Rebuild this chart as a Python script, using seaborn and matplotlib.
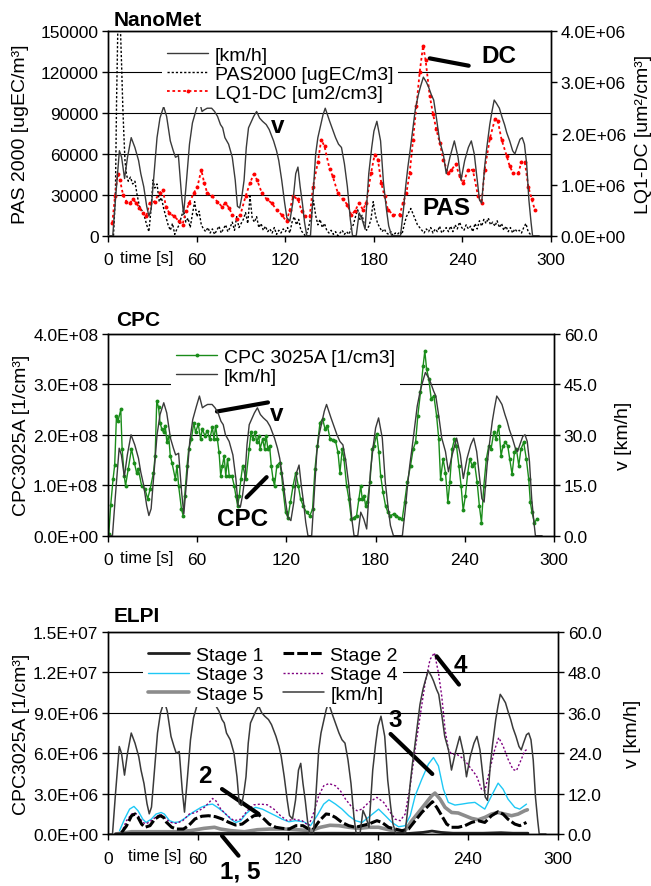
import numpy as np
import matplotlib
matplotlib.use("Agg")
import matplotlib.pyplot as plt
from matplotlib.ticker import FuncFormatter
import seaborn as sns

# ---------------- data ----------------
# vehicle speed [km/h], shared by all three panels
t_v = [0, 3, 5, 7.5, 9, 11, 13, 15.5, 18, 20.5, 22, 24, 26, 27.5, 29, 31.5, 33, 35, 37.5, 39.5,
       42, 44, 45.5, 47.5, 49.5, 51, 53, 55, 57, 59.5, 61.5, 63.5, 65, 67, 70, 72, 74, 76, 77.5, 79,
       81.5, 84, 86, 87.5, 89, 90.5, 92, 93.5, 95, 97, 98.5, 100.5, 102.5, 104.5, 107, 109, 112, 114,
       115.5, 117.5, 119.5, 121, 123, 125, 127, 128.5, 130, 131.5, 133, 134.5, 137, 139, 140.5, 142,
       144, 145.5, 147, 148.5, 150, 152, 154, 156, 158, 160, 162, 164, 165.5, 168, 170, 172, 174,
       176.5, 178.5, 180, 182, 184.5, 186.5, 188.5, 190, 192, 198, 200, 201.5, 203, 204.5, 206.5,
       208, 210, 211.5, 213.5, 215.5, 217, 219, 220.5, 222.5, 224.5, 227, 229, 231.5, 234.5, 237,
       239, 241.5, 244, 246, 248, 250, 251.5, 253, 255, 256.5, 258.5, 260, 261.5, 263, 265, 267,
       268.5, 270, 272, 274, 275.5, 277, 279, 280.5, 282, 283.5, 285, 286.5, 287.5, 292]
v_kmh = [0, 0, 12, 26, 24, 17.5, 24, 30, 27, 23, 19, 15, 9, 6, 8, 22, 30, 36, 39.5, 36.5,
         29, 26, 24, 24.5, 13, 6.5, 17, 28, 34.5, 38.5, 41.5, 38, 38.5, 39, 39, 38, 36.5, 34, 33, 30,
         28, 24, 17, 9, 8.5, 12, 17, 27, 33, 35, 36.5, 38, 36, 35, 34, 32.5, 29, 26,
         23, 17, 10, 5.5, 4.5, 10, 19, 21, 15, 10, 4, 0, 0, 14, 25, 30,
         34, 37, 39, 37, 35, 32.5, 30, 28, 27, 22, 15, 5, 0, 0, 7, 5, 2,
         19, 27, 32, 35, 29, 16, 8, 3, 0, 0, 8, 15, 21, 26, 33,
         38.5, 43, 45.5, 48.5, 47, 45.5, 43, 41.5, 35.5, 29, 25, 19, 24, 29, 24,
         17, 23, 27, 29, 25, 17, 11, 10, 21, 27, 34, 38, 41.5, 40.5, 39, 36,
         34, 31.5, 29, 26, 25, 27, 29.5, 30, 28, 22, 11, 4, 0, 0]

# NanoMet: PAS2000 [ugEC/m3]
pas_t = [3.5, 4.8, 5.6, 6.4, 7.2, 8.2, 9.0, 9.8, 10.5, 11.3, 12.3, 13.5, 15, 16.5, 18, 19.5, 21, 23,
         24.5, 26, 27.5, 29, 30.3, 31.5, 33, 34.5, 36, 37.5, 39, 40.5, 42, 43.5, 45, 46.5, 48, 49.5,
         51, 52.5, 54, 55.5, 57, 58.5, 60, 61.5, 63, 64.5, 66, 67.5, 69, 70.5, 72, 73.5, 75, 76.5, 78,
         79.5, 81, 82.5, 84, 85.5, 87, 88.5, 90, 91.5, 93, 94.5, 96, 97.5, 99, 100.5, 102, 103.5, 105,
         106.5, 108, 109.5, 111, 112.5, 114, 115.5, 117, 118.5, 120, 121.5, 123, 124.5, 126, 127.5,
         129, 130.5, 132, 133.5, 135, 136.5, 138, 139, 140.5, 142, 143.5, 145, 146.5, 148, 149.5,
         151, 152.5, 154, 155.5, 157, 158.5, 160, 161.5, 163, 164.5, 166, 167.5, 169, 170.5, 172,
         173.5, 175, 176.5, 178, 179.5, 181, 182.5, 184, 185.5, 187, 188.5, 190, 191.5, 193, 194.5,
         196, 197.5, 199, 200.5, 202, 203.5, 205, 206.5, 208, 209.5, 211, 212.5, 214, 215.5, 217,
         218.5, 220, 221.5, 223, 224.5, 226, 227.5, 229, 230.5, 232, 233.5, 235, 236.5, 238, 239.5,
         241, 242.5, 244, 245.5, 247, 248.5, 250, 251.5, 253, 254.5, 256, 257.5, 259, 260.5, 262,
         263.5, 265, 266.5, 268, 269.5, 271, 272.5, 274, 275.5, 277, 278.5, 280, 281.5, 283, 284.5,
         286, 287.5]
pas = [0, 30000, 100000, 150000, 158000, 152000, 125000, 95000, 75000, 55000, 45000, 40000, 43000,
       38000, 40000, 30000, 22000, 18000, 14000, 8000, 3000, 20000, 41000, 35000, 38000, 25000,
       28000, 20000, 14000, 8000, 4000, 9000, 1000, 5000, 8000, 14000, 19000, 10000, 13000, 6000,
       16000, 25000, 14000, 18000, 8000, 5000, 3000, 6000, 2000, 5000, 1000, 4000, 7000, 2000, 5000,
       8000, 3000, 6000, 10000, 4000, 14000, 6000, 9000, 12000, 17000, 9000, 29000, 13000, 10000,
       14000, 6000, 9000, 4000, 7000, 3000, 5000, 2000, 6000, 1000, 4000, 2000, 5000, 3000, 6000,
       2000, 10000, 14000, 8000, 12000, 4000, 2000, 0, 3000, 10000, 18000, 26000, 15000, 8000,
       12000, 6000, 9000, 4000, 2000, 4000, 1000, 3000, 0, 2000, 4000, 1000, 3000, 1000, 5000,
       8000, 14000, 19000, 12000, 15000, 8000, 4000, 7000, 12000, 25000, 15000, 9000, 6000, 3000,
       5000, 2000, 1000, 3000, 0, 2000, 1000, 3000, 1000, 8000, 14000, 17000, 20000, 16000, 12000,
       8000, 6000, 4000, 2000, 5000, 3000, 6000, 2000, 5000, 3000, 7000, 2000, 4000, 6000, 3000,
       7000, 3000, 8000, 5000, 10000, 6000, 4000, 8000, 5000, 7000, 3000, 9000, 5000, 11000, 7000,
       12000, 9000, 13000, 8000, 10000, 7000, 11000, 6000, 9000, 4000, 7000, 3000, 6000, 2000,
       5000, 3000, 4000, 2000, 6000, 9000, 3000, 1000, 0]

# NanoMet: LQ1-DC [um2/cm3], in units of 1E+06
dc_t = [2.7, 4.5, 6.3, 7.8, 10, 12.3, 14.5, 16.8, 19, 21, 23.5, 25.7, 28, 31.3, 34.7, 37, 39, 41.4,
        44.7, 48, 50.3, 52.6, 54.8, 58, 60.4, 63, 65, 67, 70.5, 73.8, 77, 79.4, 81.7, 84, 87, 89.5,
        93, 96, 98.4, 100.7, 104, 107.4, 110.7, 114, 117.4, 120.8, 123, 125.3, 128.6, 131, 133,
        136.5, 138.7, 142, 144.3, 146.5, 150, 152, 155.5, 159, 162, 164.6, 167, 170, 172.5, 174.8,
        178, 180.5, 182.7, 185, 187.2, 189.5, 193, 197.4, 199.7, 202, 204.2, 206.5, 208.8, 211,
        213.3, 215, 217.8, 220, 222.3, 224.6, 227, 230.3, 232.5, 235.5, 238, 240.5, 243.8, 247,
        250.6, 253, 255, 258.6, 262, 264, 266.5, 270, 272, 274.4, 277.8, 280, 282.3, 284.6, 287, 289]
dc_1e6 = [0.25, 0.77, 1.20, 1.10, 0.80, 0.67, 0.64, 0.71, 0.64, 0.55, 0.44, 0.38, 0.64, 0.67, 0.84,
          0.90, 0.57, 0.44, 0.38, 0.28, 0.22, 0.48, 0.64, 0.84, 0.96, 1.29, 1.03, 0.84, 0.77, 0.67,
          0.57, 0.64, 0.55, 0.41, 0.32, 0.41, 0.77, 1.03, 1.20, 1.10, 0.84, 0.71, 0.64, 0.51, 0.41,
          0.28, 0.51, 0.77, 0.71, 0.48, 0.38, 0.38, 0.96, 1.44, 1.88, 1.75, 1.30, 1.17, 0.84, 0.71,
          0.61, 0.41, 0.48, 0.64, 0.51, 0.64, 1.22, 1.59, 1.49, 1.03, 0.77, 0.51, 0.41, 0.41, 0.64,
          0.84, 1.22, 1.88, 2.54, 3.20, 3.72, 3.44, 2.74, 2.39, 2.08, 1.82, 1.49, 1.22, 1.29, 1.40,
          1.17, 1.03, 1.29, 1.29, 0.77, 0.64, 1.29, 1.91, 2.28, 2.24, 1.88, 1.56, 1.36, 1.22, 1.22,
          1.45, 1.44, 0.96, 0.71, 0.51]

# CPC 3025A [1/cm3], in units of 1E+08
cpc_t = [0.5, 1.8, 3.4, 4.5, 5.7, 6.8, 8.6, 9.5, 10.9, 11.8, 13.6, 15.8, 17.7, 19.2, 20.4, 22.6, 24.9,
         26.7, 28.3, 30.6, 31.7, 32.8, 34, 35, 36.2, 37.4, 38.5, 39.6, 40.8, 41.9, 43, 45.3, 46.4,
         47.5, 49.4, 50.5, 51.6, 53.2, 54.3, 56.1, 57.7, 58.9, 60.7, 62.3, 63.4, 65.2, 66.8, 68.4,
         70.2, 71.3, 72.4, 73.6, 74.7, 75.8, 77, 78.1, 79.2, 80.4, 81.5, 83.3, 84.9, 86, 87.2, 88.3,
         89.4, 90.6, 92.8, 95, 96.2, 97.4, 99, 100, 101.4, 102.3, 104, 105.3, 106.4, 107.5, 108.7,
         109.8, 111, 112, 113.6, 115.5, 116.6, 117.7, 119.5, 121, 122.7, 124.5, 126.3, 128, 129.5,
         131.3, 133.6, 135.8, 137.6, 139.2, 140.8, 142.6, 144.4, 146, 147.6, 149.4, 151.6, 153,
         154.7, 156, 157.6, 158.7, 160.5, 162, 163.7, 165.4, 167.2, 168.8, 170, 171, 172.2, 173.3,
         174.4, 176.2, 177.8, 178.9, 180.7, 182.2, 183.4, 185, 186.7, 188.3, 190, 192.3, 194,
         195.7, 197.9, 199.5, 201.3, 203.5, 205.3, 206.9, 208.4, 210.2, 212, 213.1, 214.3, 215.8,
         217.4, 219.2, 221, 222.5, 223.7, 225.4, 227, 228.6, 229.9, 231.5, 233, 234.4, 236, 237.5,
         238.9, 240.4, 242, 243.4, 244.9, 246.5, 248.3, 249.8, 251.2, 252.8, 254.5, 256.1, 257.7,
         259.5, 261, 262.8, 264.4, 265.7, 267.3, 268.9, 270.2, 271.8, 273.4, 274.7, 276.3, 277.8,
         279.6, 281.4, 283, 284.1, 285.2, 286.8, 288.6]
cpc_1e8 = [0.03, 0.6, 1.12, 1.4, 2.38, 2.28, 2.5, 1.72, 1.19, 0.99, 1.32, 1.72, 1.45, 1.25, 1.32, 0.99,
           0.92, 0.73, 0.92, 1.25, 1.58, 2.67, 2.54, 2.24, 2.11, 2.05, 2.18, 1.85, 1.98, 1.58, 1.45,
           1.12, 1.39, 0.99, 0.53, 0.4, 0.79, 1.39, 1.72, 1.91, 2.24, 2.05, 2.21, 1.91, 2.11, 1.98,
           2.08, 1.91, 2.15, 1.91, 2.18, 1.91, 1.65, 1.19, 1.39, 1.58, 1.19, 1.52, 1.19, 1.19, 0.99,
           0.79, 0.59, 0.79, 1.12, 1.39, 1.12, 1.72, 2.05, 1.91, 2.05, 1.85, 1.98, 1.72, 1.91, 1.72,
           1.98, 1.72, 1.78, 1.39, 1.12, 0.99, 1.39, 1.45, 1.25, 0.92, 0.46, 0.36, 0.66, 0.99, 1.25,
           0.99, 0.73, 0.59, 0.46, 0.4, 0.53, 1.32, 1.78, 2.24, 2.31, 2.11, 2.18, 1.91, 1.9, 1.88,
           1.65, 1.25, 1.72, 1.52, 0.99, 0.73, 0.33, 0.36, 0.4, 0.73, 0.99, 0.73, 0.79, 0.59, 0.66,
           1.06, 1.72, 1.78, 2.01, 1.65, 1.19, 0.86, 0.59, 0.46, 0.4, 0.43, 0.4, 0.36, 0.33, 0.66,
           1.06, 1.39, 1.72, 1.85, 2.38, 2.84, 3.37, 3.66, 3.3, 3.1, 2.71, 2.77, 2.38, 1.91, 1.12,
           1.52, 1.25, 0.66, 1.06, 1.72, 1.91, 1.78, 1.39, 0.99, 0.5, 0.79, 1.25, 1.52, 1.39, 1.45,
           1.06, 0.59, 0.26, 0.99, 1.52, 1.78, 1.72, 2.05, 1.91, 2.18, 1.58, 1.78, 1.85, 1.78, 1.52,
           1.22, 1.65, 1.72, 1.39, 1.72, 1.85, 1.52, 1.12, 0.66, 0.46, 0.26, 0.33]

# ELPI stages [1/cm3], in units of 1E+06
s1_t = [5, 15, 30, 60, 90, 120, 150, 180, 200, 210, 216, 222, 230, 250, 262, 270, 280]
s1 = [0, 0.05, 0.05, 0.06, 0.05, 0.05, 0.06, 0.05, 0.04, 0.12, 0.22, 0.12, 0.06, 0.06, 0.10, 0.06, 0.06]

s2_t = [9, 12.3, 15.7, 18, 20, 22.4, 24.6, 28, 31.3, 34.7, 37, 39, 42.5, 45.9, 50.3, 53.7, 58, 62.6,
        67, 71.6, 76, 80.5, 85, 89.5, 94, 97.3, 100.7, 104, 107.4, 111.9, 116.3, 120.8, 125.3, 130,
        133, 136.5, 141, 145.4, 148, 151.7, 156, 160.5, 165, 169.4, 173.8, 179.3, 182.7, 187, 191.5,
        196, 200.4, 204.8, 209.2, 213.6, 216.3, 219.2, 222.5, 225.8, 229, 233.5, 238, 242.4, 246.8,
        251.2, 255.7, 260, 263.4, 266.7, 271.2, 274.5, 279]
s2 = [0.1, 0.6, 1.36, 1.49, 1.24, 0.74, 0.5, 0.62, 1.12, 1.36, 1.24, 0.87, 0.5, 0.37, 0.37, 0.62, 1.12,
      1.32, 1.36, 1.29, 1.12, 0.87, 0.67, 0.74, 1.12, 1.36, 1.41, 1.12, 0.74, 0.5, 0.42, 0.37, 0.62,
      0.62, 0.42, 0.3, 0.99, 1.49, 1.45, 1.23, 0.86, 0.62, 0.5, 0.62, 0.74, 0.99, 0.86, 0.5, 0.37,
      0.25, 0.37, 0.99, 1.6, 2.1, 2.4, 1.98, 1.36, 0.74, 0.5, 0.5, 0.62, 0.86, 0.99, 0.86, 1.36,
      1.65, 1.48, 1.1, 0.74, 0.62, 0.86]

s3_t = [7.7, 11, 14.4, 17.3, 20, 23.2, 25.4, 28.8, 32, 35.4, 37.6, 41, 44.2, 47.5, 52, 56.4, 62, 66.4,
        69.7, 73, 77.4, 81.9, 85.2, 88.5, 91.8, 95, 98.5, 102.9, 107.3, 111.7, 116.2, 120.6, 125,
        130.5, 135, 139.4, 143.8, 147.3, 151.7, 156, 160.5, 165, 169.4, 175, 180.4, 184.9, 189.3,
        193.7, 198.1, 201.5, 204.8, 209.2, 213.6, 217, 220.3, 223.6, 226.9, 231.3, 235.8, 240.2,
        244.6, 247.9, 251.2, 255.7, 260.1, 263.4, 266.7, 271.2, 274.5, 279]
s3 = [0.25, 1.1, 1.85, 2.05, 1.73, 1.1, 0.86, 1.1, 1.48, 1.6, 1.48, 0.99, 0.86, 0.9, 1.23, 1.6, 1.98,
      2.17, 2.22, 1.98, 1.6, 1.1, 0.86, 0.99, 1.48, 1.8, 1.98, 1.85, 1.6, 1.36, 1.1, 0.91, 0.99,
      0.91, 0.62, 1.36, 2.22, 2.54, 2.22, 1.85, 1.36, 0.99, 0.86, 1.36, 1.85, 1.36, 0.86, 0.54,
      0.62, 1.36, 2.84, 4.07, 5.19, 5.68, 5.06, 3.33, 2.35, 2.15, 2.22, 2.3, 2.35, 2.1, 1.85, 2.84,
      3.78, 3.33, 2.59, 1.98, 1.85, 2.22]

s4_t = [9, 12.3, 15.7, 18, 20, 23.2, 25.4, 28.8, 33.2, 35.4, 38.7, 42, 45.4, 49.8, 54.2, 58.6, 64.2,
        67.5, 69.7, 71.9, 75.2, 79.6, 84, 88.5, 92.9, 97.3, 101.8, 106.2, 110.6, 115, 119.5, 124,
        129.4, 133.8, 137.2, 140.5, 143.8, 147.3, 151.7, 155, 158.3, 162.7, 166, 169.4, 173.8,
        179.3, 183.8, 188.2, 191.5, 194.8, 198.1, 201.5, 204.8, 208.1, 211.4, 214.7, 217.6, 220.3,
        222.5, 224.7, 226.9, 229.1, 232.4, 235.8, 239, 242.4, 245.7, 249, 251.2, 254.6, 257.9,
        260.5, 263.4, 266.7, 270, 272.3, 275.6, 277.8, 279.6]
s4 = [0.1, 0.99, 1.48, 1.56, 1.36, 0.86, 0.75, 0.99, 1.36, 1.44, 1.1, 0.86, 0.79, 0.99, 1.48, 1.6,
      1.98, 2.35, 2.64, 2.47, 1.85, 1.36, 0.99, 1.1, 1.73, 2.17, 2.22, 2.17, 1.85, 1.36, 0.99, 1.1,
      0.99, 0.62, 1.6, 2.84, 3.58, 3.75, 3.58, 3.2, 2.6, 1.98, 1.73, 1.85, 2.35, 2.72, 2.35, 1.6,
      1.1, 0.99, 1.48, 3.58, 6.3, 8.77, 11.2, 12.96, 13.46, 11.98, 10.25, 7.78, 6.3, 5.93, 5.93,
      5.68, 5.3, 4.8, 4.32, 3.33, 3.2, 4.8, 6.3, 7.16, 6.54, 5.56, 4.8, 4.7, 5.56, 6.17, 6.3]

s5_t = [5, 15.7, 30, 45, 55, 64, 71, 75, 82, 91, 99.6, 108, 117, 126, 135, 141.6, 148, 154, 160.5,
        167, 173.8, 180.4, 187, 193.7, 198.1, 202.6, 207, 211.4, 215.8, 218, 221.4, 224.7, 229.1,
        233.5, 238, 242.4, 246.8, 251.2, 255.7, 260, 264.5, 269, 273.4, 277.8, 279.6]
s5 = [0, 0.17, 0.17, 0.17, 0.25, 0.42, 0.5, 0.37, 0.25, 0.17, 0.32, 0.37, 0.37, 0.32, 0.25, 0.5, 0.65,
      0.62, 0.5, 0.42, 0.5, 0.5, 0.32, 0.17, 0.25, 0.99, 1.6, 2.22, 2.84, 3.04, 2.59, 1.98, 1.6,
      1.56, 1.36, 1.16, 1.06, 1.23, 1.48, 1.6, 1.48, 1.36, 1.48, 1.73, 1.8]

x_ticks = [0, 60, 120, 180, 240, 300]

# ---------------- styling ----------------
sns.set_style("white")
plt.rcParams["font.family"] = ["Liberation Sans", "DejaVu Sans"]
for key in ["text.color", "axes.labelcolor", "xtick.color", "ytick.color", "axes.edgecolor"]:
    plt.rcParams[key] = "black"

TICK = 12.5
LEG = 14
LAB = 14
NOTE = 17.5
V_COL = "#3a3a3a"
LEG_KW = dict(fontsize=LEG, frameon=True, facecolor="white", edgecolor="none", framealpha=1,
              fancybox=False, handlelength=2.1, handletextpad=0.35, labelspacing=0.08,
              borderpad=0.25, loc="upper left")

fig = plt.figure(figsize=(6.51, 8.87), dpi=100)


def line(ax, x, y, **kw):
    sns.lineplot(x=x, y=y, ax=ax, estimator=None, sort=False, legend=False, **kw)
    return ax.get_lines()[-1]


def frame(ax, ymax, ystep, fmt, side="left"):
    ax.set_xlim(0, 300)
    ax.set_ylim(0, ymax)
    ax.set_yticks(np.arange(0, ymax + ystep / 2, ystep))
    ax.yaxis.set_major_formatter(FuncFormatter(fmt))
    ax.tick_params(axis="y", which="both", direction="out", length=4, width=1, color="black",
                   labelsize=TICK, pad=3, left=(side == "left"), right=(side == "right"))
    for s in ax.spines.values():
        s.set_color("black")
        s.set_linewidth(1)


def xaxis(ax, time_x):
    ax.set_xticks(x_ticks)
    ax.set_xticklabels([str(v) for v in x_ticks])
    ax.tick_params(axis="x", direction="out", length=4, width=1, color="black",
                   labelsize=TICK, pad=8, bottom=True)
    ax.text(time_x, -0.108, "time [s]", transform=ax.get_xaxis_transform(),
            ha="center", va="center", fontsize=12)
    ax.set_xlabel("")


def grid(ax):
    ax.yaxis.grid(True, color="black", lw=0.8)
    ax.xaxis.grid(False)
    ax.set_axisbelow(True)


def callout(ax, text, txy, a, b):
    ax.text(txy[0], txy[1], text, fontsize=NOTE, fontweight="bold", ha="center", va="center",
            clip_on=False, zorder=10)
    ax.annotate("", xy=b, xytext=a, annotation_clip=False,
                arrowprops=dict(arrowstyle="-", lw=3, color="black", shrinkA=0, shrinkB=0))


sci = lambda v, p: f"{v:.1E}"
one = lambda v, p: f"{v:.1f}"

# ---------------- panel 1: NanoMet ----------------
ax1 = fig.add_axes([0.1664, 0.7331, 0.680, 0.2304])
ax1r = ax1.twinx()
ax1v = ax1.twinx()
frame(ax1, 150000, 30000, lambda v, p: f"{int(v)}")
frame(ax1r, 4e6, 1e6, sci, side="right")
grid(ax1)
xaxis(ax1, 26)
ax1v.set_ylim(0, 62.5)
ax1v.axis("off")

h_pas = line(ax1, pas_t, pas, color="black", lw=1.0, linestyle=(0, (1.6, 1.4)),
             label="PAS2000 [ugEC/m3]")
h_dc = line(ax1r, dc_t, np.array(dc_1e6) * 1e6, color="#ff0000", lw=1.3, linestyle=(0, (1.5, 1.5)),
            marker="o", markersize=2.8, markeredgewidth=0, label="LQ1-DC [um2/cm3]")
h_v1 = line(ax1v, t_v, v_kmh, color=V_COL, lw=1.0, label="[km/h]")

ax1.set_ylabel("PAS 2000 [ugEC/m³]", fontsize=LAB)
ax1.yaxis.set_label_coords(-0.18, 0.5)
ax1r.set_ylabel("LQ1-DC [um²/cm³]", fontsize=LAB)
ax1r.yaxis.set_label_coords(1.19, 0.5)

ax1v.legend([h_v1, h_pas, h_dc], ["[km/h]", "PAS2000 [ugEC/m3]", "LQ1-DC [um2/cm3]"],
            bbox_to_anchor=(0.10, 1.0), **LEG_KW)

callout(ax1, "DC", (265, 132100), (217.8, 130200), (244.2, 124800))
ax1.text(115, 80700, "v", fontsize=NOTE, fontweight="bold", ha="center", va="center")
ax1.text(229, 20800, "PAS", fontsize=NOTE, fontweight="bold", ha="center", va="center")
fig.text(114 / 651, 1 - 20 / 887, "NanoMet", fontsize=15, fontweight="bold", va="center")

# ---------------- panel 2: CPC ----------------
ax2 = fig.add_axes([0.1659, 0.3949, 0.6851, 0.2277])
ax2r = ax2.twinx()
frame(ax2, 4e8, 1e8, sci)
frame(ax2r, 60, 15, one, side="right")
grid(ax2)
xaxis(ax2, 26)

h_cpc = line(ax2, cpc_t, np.array(cpc_1e8) * 1e8, color="#1a8c1a", lw=1.0, marker="o",
             markersize=2.8, markeredgewidth=0, label="CPC 3025A [1/cm3]")
h_v2 = line(ax2r, t_v, v_kmh, color=V_COL, lw=1.0, label="[km/h]")

ax2.set_ylabel("CPC3025A [1/cm³]", fontsize=LAB)
ax2.yaxis.set_label_coords(-0.175, 0.5)
ax2r.set_ylabel("v [km/h]", fontsize=LAB)
ax2r.yaxis.set_label_coords(1.136, 0.5)

ax2r.legend([h_cpc, h_v2], ["CPC 3025A [1/cm3]", "[km/h]"],
            bbox_to_anchor=(0.12, 1.0), **LEG_KW)

callout(ax2, "v", (113.4, 2.43e8), (73.3, 2.46e8), (107.6, 2.64e8))
callout(ax2, "CPC", (90.5, 0.34e8), (93.2, 0.76e8), (106.7, 1.16e8))
fig.text(116 / 651, 1 - 320 / 887, "CPC", fontsize=15, fontweight="bold", va="center")

# ---------------- panel 3: ELPI ----------------
ax3 = fig.add_axes([0.1659, 0.0586, 0.6912, 0.2277])
ax3r = ax3.twinx()
frame(ax3, 1.5e7, 3e6, sci)
frame(ax3r, 60, 12, one, side="right")
grid(ax3)
xaxis(ax3, 31)

h_s5 = line(ax3, s5_t, np.array(s5) * 1e6, color="#8c8c8c", lw=2.6, label="Stage 5")
h_s3 = line(ax3, s3_t, np.array(s3) * 1e6, color="#1ec8f5", lw=1.0, label="Stage 3")
h_s4 = line(ax3, s4_t, np.array(s4) * 1e6, color="#800080", lw=1.0, linestyle=(0, (1.5, 1.5)),
            label="Stage 4")
h_s2 = line(ax3, s2_t, np.array(s2) * 1e6, color="black", lw=2.2, linestyle=(0, (3.5, 1.0)),
            label="Stage 2")
h_s1 = line(ax3, s1_t, np.array(s1) * 1e6, color="#202020", lw=2.0, label="Stage 1")
h_v3 = line(ax3r, t_v, v_kmh, color=V_COL, lw=1.1, label="[km/h]")

ax3.set_ylabel("CPC3025A [1/cm³]", fontsize=LAB)
ax3.yaxis.set_label_coords(-0.174, 0.5)
ax3r.set_ylabel("v [km/h]", fontsize=LAB)
ax3r.yaxis.set_label_coords(1.146, 0.5)

ax3r.legend([h_s1, h_s3, h_s5, h_s2, h_s4, h_v3],
            ["Stage 1", "Stage 3", "Stage 5", "Stage 2", "Stage 4", "[km/h]"],
            ncol=2, columnspacing=1.0, bbox_to_anchor=(0.057, 1.0), **LEG_KW)

callout(ax3, "2", (64.8, 4.33e6), (76, 3.34e6), (100.4, 1.49e6))
callout(ax3, "1, 5", (88.2, -2.75e6), (76, -0.13e6), (87, -1.61e6))
callout(ax3, "3", (191.7, 8.54e6), (188.4, 7.43e6), (216.2, 4.46e6))
callout(ax3, "4", (235.1, 12.6e6), (219.1, 13.2e6), (234, 11.1e6))
fig.text(114 / 651, 1 - 616 / 887, "ELPI", fontsize=15, fontweight="bold", va="center")

fig.savefig("out.png", dpi=100)
